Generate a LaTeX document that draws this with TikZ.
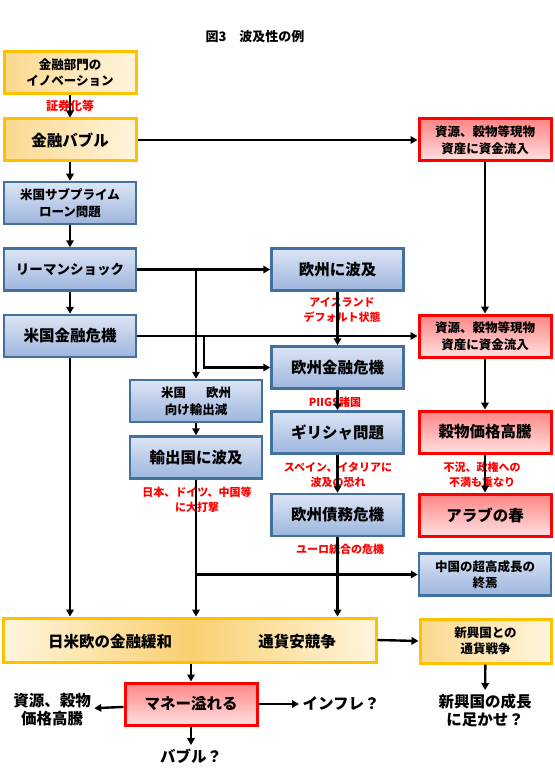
\documentclass[tikz,border=0pt]{standalone}
\usepackage{fontspec}
\setmainfont{Noto Sans CJK JP}
\usetikzlibrary{arrows.meta}

\definecolor{goldline}{HTML}{FFC000}
\definecolor{steelline}{HTML}{41719C}
\definecolor{bluetop}{HTML}{DCE5F4}
\definecolor{bluebot}{HTML}{9DB5DE}
\definecolor{pinktop}{HTML}{FF8585}
\definecolor{pinkbot}{HTML}{FFE0E0}
\definecolor{peach}{HTML}{FBD88E}
\definecolor{peachdeep}{HTML}{F9D070}
\definecolor{cream}{HTML}{FFF5DD}

\tikzset{
  box/.style={minimum width=132pt, minimum height=42pt, inner sep=0pt, align=center},
  goldbox/.style={box, draw=goldline, line width=3pt, left color=peach, right color=cream},
  bluebox/.style={box, draw=steelline, line width=2.5pt, top color=bluetop, bottom color=bluebot},
  redbox/.style={box, draw=red, line width=3pt, top color=pinktop, bottom color=pinkbot},
  big/.style={font=\fontsize{15.5}{18}\selectfont\bfseries},
  mid/.style={font=\fontsize{12.5}{16.5}\selectfont\bfseries},
  note/.style={text=red, font=\fontsize{11}{15.5}\selectfont\bfseries, align=center, inner sep=1pt},
  arr/.style={-{Triangle[length=7pt,width=7.5pt]}, line width=2.4pt}
}

\begin{document}
\begin{tikzpicture}[x=1pt, y=-1pt]
  \useasboundingbox (0,0) rectangle (554,770);

  % Title
  \node[font=\fontsize{13}{15}\selectfont\bfseries] (title) at (255,37) {図3\quad 波及性の例};

  % Left column
  \node[goldbox, mid] (innov) at (70,72.5) {金融部門の\\イノベーション};
  \node[goldbox, big] (bubble) at (70,140) {金融バブル};
  \node[bluebox, mid] (subprime) at (70,203) {米国サブプライム\\ローン問題};
  \node[bluebox, big, font=\fontsize{13.5}{18}\selectfont\bfseries] (lehman) at (70,269.5) {リーマンショック};
  \node[bluebox, big] (uscrisis) at (70,336) {米国金融危機};

  % Export column
  \node[bluebox, mid] (exports) at (196,401) {米国\hspace{1.6em}欧州\\向け輸出減};
  \node[bluebox, big] (exporters) at (196,457.5) {輸出国に波及};

  % Europe column
  \node[bluebox, big] (euspread) at (337.5,269.5) {欧州に波及};
  \node[bluebox, big] (eucrisis) at (337.5,367.5) {欧州金融危機};
  \node[bluebox, big] (greece) at (337.5,432.5) {ギリシャ問題};
  \node[bluebox, big] (eudebt) at (337.5,515) {欧州債務危機};

  % Right column
  \node[redbox, mid] (inflowA) at (485,140) {資源、穀物等現物\\資産に資金流入};
  \node[redbox, mid] (inflowB) at (485,336) {資源、穀物等現物\\資産に資金流入};
  \node[redbox, big] (grain) at (485,432) {穀物価格高騰};
  \node[redbox, big] (arab) at (485,515) {アラブの春};
  \node[bluebox, mid] (china) at (485,574.5) {中国の超高成長の\\終焉};

  % Bottom
  \node[goldbox, minimum width=373pt, minimum height=44pt, left color=cream, right color=cream, middle color=peachdeep] (easing) at (189.5,640) {};
  \node[big] (easeL) at (110,642) {日米欧の金融緩和};
  \node[big] (easeR) at (297,642) {通貨安競争};
  \node[goldbox, mid, minimum width=131pt, minimum height=44pt] (fxwar) at (485.5,641) {新興国との\\通貨戦争};
  \node[redbox, big] (money) at (191,704) {マネー溢れる};
  \node[big, align=center] (resources) at (52,710) {資源、穀物\\価格高騰};
  \node[big, anchor=west] (inflation) at (299,704) {インフレ？};
  \node[big] (bubbleq) at (191,756) {バブル？};
  \node[big, align=center] (growth) at (485,710) {新興国の成長\\に足かせ？};

  % Red notes
  \node[note, font=\fontsize{12}{15}\selectfont\bfseries] (securit) at (70,106) {証券化等};
  \node[note] (iceland) at (342,310) {アイスランド\\デフォルト状態};
  \node[note] (piigs) at (335,402) {PIIGS諸国};
  \node[note] (spain) at (338,475) {スペイン、イタリアに\\波及の恐れ};
  \node[note] (euro) at (340,549) {ユーロ統合の危機};
  \node[note] (japan) at (197,500) {日本、ドイツ、中国等\\に大打撃};
  \node[note] (unrest) at (482,475) {不況、政権への\\不満も重なり};

  % Arrows
  \draw[arr] (innov) -- (bubble);
  \draw[arr] (bubble) -- (subprime);
  \draw[arr] (subprime) -- (lehman);
  \draw[arr] (lehman) -- (uscrisis);
  \draw[arr] (uscrisis) -- (uscrisis |- easing.north);
  \draw[arr] (bubble) -- (inflowA);
  \draw[arr] (inflowA) -- (inflowB);
  \draw[arr] (inflowB) -- (grain);
  \draw[arr] (grain) -- (arab);

  \draw[arr] (lehman) -- (euspread);
  \coordinate (forkL) at (exports.north |- lehman.east);
  \draw[arr] (forkL) -- (exports);
  \draw[arr] (uscrisis) -- (inflowB);
  \coordinate (forkU) at (204,336);
  \draw[arr] (forkU) |- (eucrisis);

  \draw[arr] (euspread) -- (eucrisis);
  \draw[arr] (eucrisis) -- (greece);
  \draw[arr] (greece) -- (eudebt);
  \draw[arr] (eudebt) -- (eudebt |- easing.north);

  \draw[arr] (exports) -- (exporters);
  \draw[arr] (exporters) -- (exporters |- easing.north);
  \draw[arr] (exporters |- china.west) -- (china);

  \draw[arr] (easing.east) -- (fxwar.west);
  \draw[arr] (fxwar) -- (growth);
  \draw[arr] (money.north |- easing.south) -- (money);
  \draw[arr] (money) -- (resources);
  \draw[arr] (money) -- (inflation);
  \draw[arr] (money) -- (bubbleq);
\end{tikzpicture}
\end{document}
